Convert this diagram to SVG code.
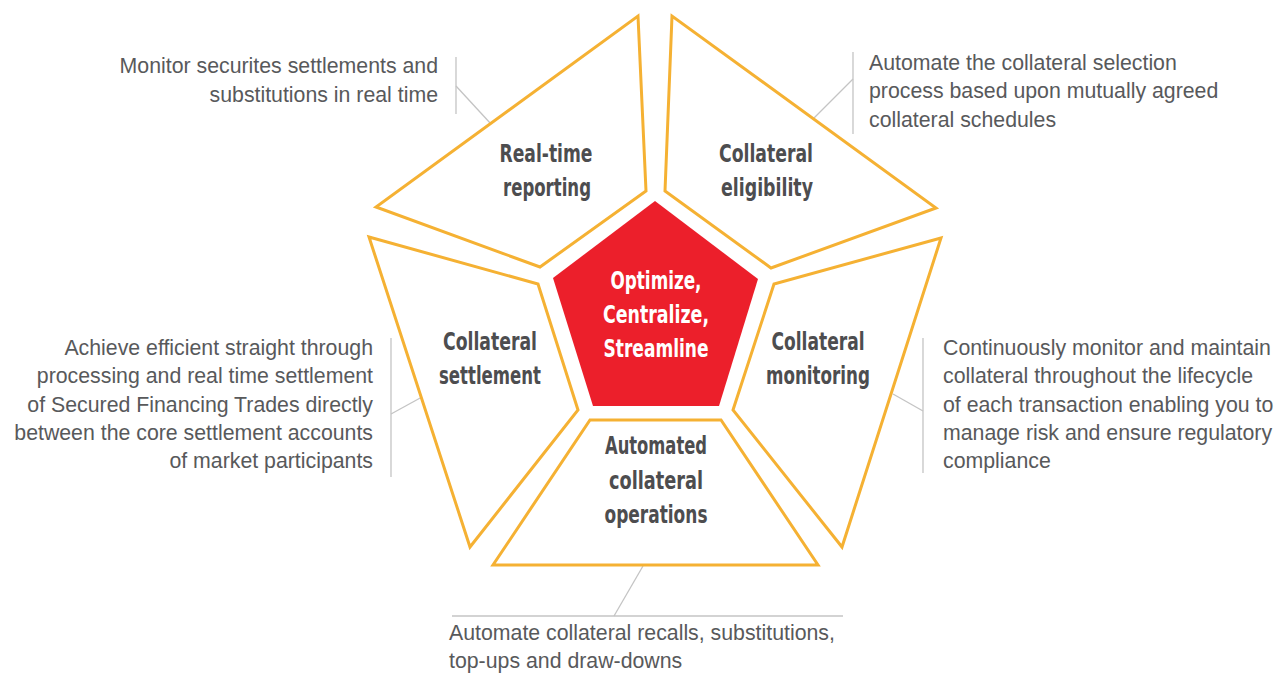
<svg xmlns="http://www.w3.org/2000/svg" width="1280" height="673" viewBox="0 0 1280 673">
<style>
.seg{fill:#ffffff;stroke:#f5b133;stroke-width:3;stroke-linejoin:miter}
.core{fill:#ec1f2b;stroke:none}
.lbl{font-family:"DejaVu Sans Condensed","Liberation Sans Narrow","Liberation Sans",sans-serif;font-stretch:condensed;font-weight:bold;font-size:24px;fill:#4d4d4f;text-anchor:middle}
.clbl{font-family:"DejaVu Sans Condensed","Liberation Sans Narrow","Liberation Sans",sans-serif;font-stretch:condensed;font-weight:bold;font-size:24px;fill:#ffffff;text-anchor:middle}
.desc{font-family:"Liberation Sans",Arial,sans-serif;font-size:21.3px;fill:#58595b}
.r{text-anchor:end}
.lead{stroke:#c4c4c4;stroke-width:1.3;fill:none}
</style>
<rect width="1280" height="673" fill="#ffffff"/>

<g id="connectors">
<line class="lead" x1="456" y1="57" x2="456" y2="114"/>
<line class="lead" x1="456" y1="86" x2="491" y2="124"/>
<line class="lead" x1="853" y1="52" x2="853" y2="134"/>
<line class="lead" x1="853" y1="79" x2="813" y2="119"/>
<line class="lead" x1="391" y1="338" x2="391" y2="477"/>
<line class="lead" x1="391" y1="414" x2="422" y2="397"/>
<line class="lead" x1="923" y1="338" x2="923" y2="473"/>
<line class="lead" x1="923" y1="411" x2="893" y2="394"/>
<line class="lead" x1="452" y1="616" x2="843" y2="616"/>
<line class="lead" x1="614" y1="616" x2="643" y2="566"/>
</g>

<g id="realtime-reporting">
<polygon class="seg" points="638,16 646,191 540,267 376,207"/>
<text class="lbl" x="546" y="162" textLength="93" lengthAdjust="spacingAndGlyphs">Real-time</text>
<text class="lbl" x="547" y="196" textLength="88" lengthAdjust="spacingAndGlyphs">reporting</text>
</g>

<g id="collateral-eligibility">
<polygon class="seg" points="672,16 665,191 771,268 936,208"/>
<text class="lbl" x="766" y="162" textLength="94" lengthAdjust="spacingAndGlyphs">Collateral</text>
<text class="lbl" x="767" y="196" textLength="92" lengthAdjust="spacingAndGlyphs">eligibility</text>
</g>

<g id="collateral-settlement">
<polygon class="seg" points="369,237 538,284 578,410 470,547"/>
<text class="lbl" x="490" y="350" textLength="94" lengthAdjust="spacingAndGlyphs">Collateral</text>
<text class="lbl" x="490" y="384" textLength="102" lengthAdjust="spacingAndGlyphs">settlement</text>
</g>

<g id="collateral-monitoring">
<polygon class="seg" points="941,238 774,284 733,410 842,547"/>
<text class="lbl" x="818" y="350" textLength="93" lengthAdjust="spacingAndGlyphs">Collateral</text>
<text class="lbl" x="818" y="384" textLength="104" lengthAdjust="spacingAndGlyphs">monitoring</text>
</g>

<g id="automated-operations">
<polygon class="seg" points="590,420 721,420 818,565 493,565"/>
<text class="lbl" x="656" y="454" textLength="102" lengthAdjust="spacingAndGlyphs">Automated</text>
<text class="lbl" x="656" y="489" textLength="94" lengthAdjust="spacingAndGlyphs">collateral</text>
<text class="lbl" x="656" y="523" textLength="103" lengthAdjust="spacingAndGlyphs">operations</text>
</g>

<g id="core">
<polygon class="core" points="655,201 758,279 719,406 593,406 553,278"/>
<text class="clbl" x="656" y="289" textLength="91" lengthAdjust="spacingAndGlyphs">Optimize,</text>
<text class="clbl" x="656" y="323" textLength="106" lengthAdjust="spacingAndGlyphs">Centralize,</text>
<text class="clbl" x="656" y="357" textLength="105" lengthAdjust="spacingAndGlyphs">Streamline</text>
</g>

<g id="desc-realtime">
<text class="desc r" x="438" y="73">Monitor securites settlements and</text>
<text class="desc r" x="438" y="102">substitutions in real time</text>
</g>

<g id="desc-eligibility">
<text class="desc" x="869" y="70">Automate the collateral selection</text>
<text class="desc" x="869" y="98">process based upon mutually agreed</text>
<text class="desc" x="869" y="127">collateral schedules</text>
</g>

<g id="desc-settlement">
<text class="desc r" x="373" y="355">Achieve efficient straight through</text>
<text class="desc r" x="373" y="383">processing and real time settlement</text>
<text class="desc r" x="373" y="412">of Secured Financing Trades directly</text>
<text class="desc r" x="373" y="440">between the core settlement accounts</text>
<text class="desc r" x="373" y="468">of market participants</text>
</g>

<g id="desc-monitoring">
<text class="desc" x="943" y="355">Continuously monitor and maintain</text>
<text class="desc" x="943" y="383">collateral throughout the lifecycle</text>
<text class="desc" x="943" y="412">of each transaction enabling you to</text>
<text class="desc" x="943" y="440">manage risk and ensure regulatory</text>
<text class="desc" x="943" y="468">compliance</text>
</g>

<g id="desc-operations">
<text class="desc" x="449" y="640">Automate collateral recalls, substitutions,</text>
<text class="desc" x="449" y="668">top-ups and draw-downs</text>
</g>
</svg>
